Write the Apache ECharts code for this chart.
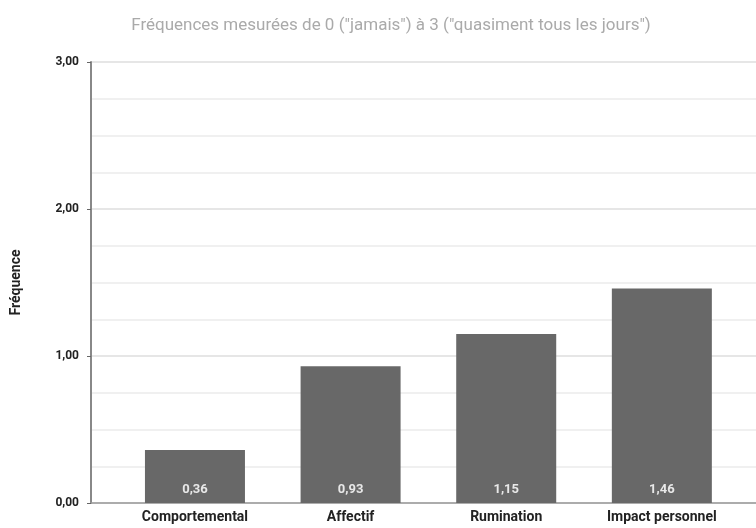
<!DOCTYPE html>
<html>
<head>
<meta charset="utf-8">
<script src="https://cdn.jsdelivr.net/npm/echarts@6/dist/echarts.min.js"></script>
<style>
  html, body { margin: 0; padding: 0; background: #fff; }
  #chart { width: 756px; height: 528px; }
</style>
</head>
<body>
<div id="chart"></div>
<script>
// categories and mean frequencies
var categories = ['Comportemental', 'Affectif', 'Rumination', 'Impact personnel']
var values = [0.36, 0.93, 1.15, 1.46]

var chart = echarts.init(document.getElementById('chart'))

var points = []
for (var i = 0; i < values.length; i++) {
  points.push([i, values[i]])
}

function fmt(v) {
  return v.toFixed(2).replace('.', ',')
}

chart.setOption({
  animation: false,
  textStyle: { fontFamily: 'Roboto' },
  title: {
    text: 'Fréquences mesurées de 0 ("jamais") à 3 ("quasiment tous les jours")',
    left: 386,
    textAlign: 'center',
    top: 12,
    textStyle: { color: '#aaa', fontSize: 17, fontWeight: 'normal' }
  },
  grid: { left: 91, right: 0, top: 62, bottom: 25 },
  xAxis: {
    type: 'value',
    min: -0.668,
    max: 3.605,
    splitLine: { show: false },
    axisTick: { show: false },
    axisLine: { show: true, lineStyle: { color: '#999', width: 1.5 } },
    axisLabel: {
      customValues: [0, 1, 2, 3],
      formatter: function (v) { return categories[Math.round(v)] },
      color: '#222',
      fontWeight: 'bold',
      fontSize: 14,
      margin: 7
    }
  },
  yAxis: {
    type: 'value',
    min: 0,
    max: 3,
    interval: 1,
    name: 'Fréquence',
    nameLocation: 'middle',
    nameGap: 68,
    nameTextStyle: { color: '#222', fontWeight: 'bold', fontSize: 14 },
    axisLine: { show: true, onZero: false, lineStyle: { color: '#888', width: 2 } },
    axisTick: { show: true, length: 4, lineStyle: { color: '#666' } },
    axisLabel: {
      formatter: fmt,
      color: '#222',
      fontWeight: 'bold',
      fontSize: 12,
      margin: 12
    },
    splitLine: { show: true, lineStyle: { color: '#dedede', width: 1.5 } },
    minorTick: { show: false, splitNumber: 4 },
    minorSplitLine: { show: true, lineStyle: { color: '#ececec', width: 1.5 } }
  },
  series: [{
    type: 'bar',
    data: points,
    barWidth: 100,
    itemStyle: { color: '#686868' },
    label: {
      show: true,
      position: 'insideBottom',
      distance: 7,
      color: '#e8e8e8',
      fontSize: 13,
      fontWeight: 'bold',
      formatter: function (p) { return fmt(p.value[1]) }
    }
  }]
})
</script>
</body>
</html>
